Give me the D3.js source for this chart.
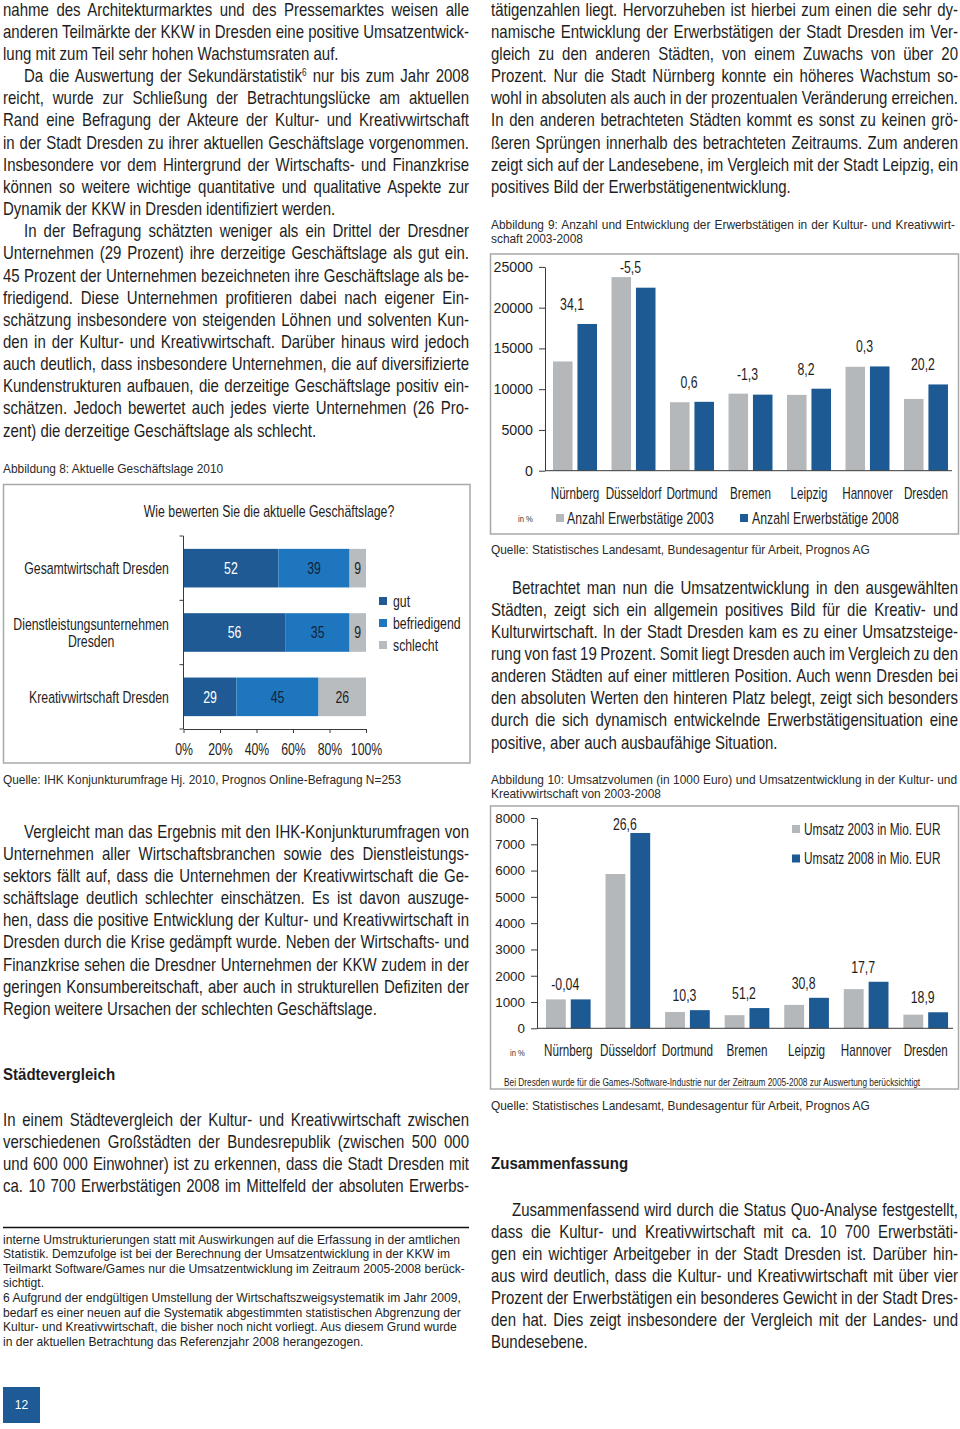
<!DOCTYPE html>
<html><head><meta charset="utf-8">
<script src="https://cdn.jsdelivr.net/npm/d3@7"></script>
<style>
html,body{margin:0;padding:0;background:#fff;}
svg{display:block;}
text{font-family:"Liberation Sans",Arial,sans-serif;fill:#1e1e1e;}
</style></head><body>
<script>
// ================= DATA =================
// Figure 8 – current business situation (percent)
const fig8Categories = ["Gesamtwirtschaft Dresden", "Dienstleistungsunternehmen\nDresden", "Kreativwirtschaft Dresden"];
const fig8Series = ["gut", "befriedigend", "schlecht"];
const fig8Gut = [52, 56, 29];
const fig8Befriedigend = [39, 35, 45];
const fig8Schlecht = [9, 9, 26];
const fig8Ticks = [0, 20, 40, 60, 80, 100];
const fig8Title = "Wie bewerten Sie die aktuelle Geschäftslage?";

// Figure 9 – employed persons
const cities = ["Nürnberg", "Düsseldorf", "Dortmund", "Bremen", "Leipzig", "Hannover", "Dresden"];
const fig9Series = ["Anzahl Erwerbstätige 2003", "Anzahl Erwerbstätige 2008"];
const erwerb2003 = [13400, 23750, 8400, 9450, 9300, 12750, 8800];
const erwerb2008 = [18000, 22450, 8450, 9330, 10060, 12790, 10580];
const erwerbChange = ["34,1", "-5,5", "0,6", "-1,3", "8,2", "0,3", "20,2"];
const fig9Ticks = [0, 5000, 10000, 15000, 20000, 25000];

// Figure 10 – turnover (Mio. EUR)
const fig10Series = ["Umsatz 2003 in Mio. EUR", "Umsatz 2008 in Mio. EUR"];
const umsatz2003 = [1100, 5870, 620, 500, 890, 1490, 520];
const umsatz2008 = [1100, 7430, 690, 770, 1160, 1770, 610];
const umsatzChange = ["-0,04", "26,6", "10,3", "51,2", "30,8", "17,7", "18,9"];
const fig10Ticks = [0, 1000, 2000, 3000, 4000, 5000, 6000, 7000, 8000];
const fig10Note = "Bei Dresden wurde für die Games-/Software-Industrie nur der Zeitraum 2005-2008 zur Auswertung berücksichtigt";

// Captions & sources
const captions = {
  fig8: ["Abbildung 8: Aktuelle Geschäftslage 2010"],
  fig8src: "Quelle: IHK Konjunkturumfrage Hj. 2010, Prognos Online-Befragung N=253",
  fig9: ["Abbildung 9: Anzahl und Entwicklung der Erwerbstätigen in der Kultur- und Kreativwirt-", "schaft 2003-2008"],
  fig9src: "Quelle: Statistisches Landesamt, Bundesagentur für Arbeit, Prognos AG",
  fig10: ["Abbildung 10: Umsatzvolumen (in 1000 Euro) und Umsatzentwicklung in der Kultur- und", "Kreativwirtschaft von 2003-2008"],
  fig10src: "Quelle: Statistisches Landesamt, Bundesagentur für Arbeit, Prognos AG"
};

// Body text
const leftTop = [
  {indent:false, end:true, lines:[
    "nahme des Architekturmarktes und des Pressemarktes weisen alle",
    "anderen Teilmärkte der KKW in Dresden eine positive Umsatzentwick-",
    "lung mit zum Teil sehr hohen Wachstumsraten auf."]},
  {indent:true, end:true, lines:[
    "Da die Auswertung der Sekundärstatistik^6 nur bis zum Jahr 2008",
    "reicht, wurde zur Schließung der Betrachtungslücke am aktuellen",
    "Rand eine Befragung der Akteure der Kultur- und Kreativwirtschaft",
    "in der Stadt Dresden zu ihrer aktuellen Geschäftslage vorgenommen.",
    "Insbesondere vor dem Hintergrund der Wirtschafts- und Finanzkrise",
    "können so weitere wichtige quantitative und qualitative Aspekte zur",
    "Dynamik der KKW in Dresden identifiziert werden."]},
  {indent:true, end:true, lines:[
    "In der Befragung schätzten weniger als ein Drittel der Dresdner",
    "Unternehmen (29 Prozent) ihre derzeitige Geschäftslage als gut ein.",
    "45 Prozent der Unternehmen bezeichneten ihre Geschäftslage als be-",
    "friedigend. Diese Unternehmen profitieren dabei nach eigener Ein-",
    "schätzung insbesondere von steigenden Löhnen und solventen Kun-",
    "den in der Kultur- und Kreativwirtschaft. Darüber hinaus wird jedoch",
    "auch deutlich, dass insbesondere Unternehmen, die auf diversifizierte",
    "Kundenstrukturen aufbauen, die derzeitige Geschäftslage positiv ein-",
    "schätzen. Jedoch bewertet auch jedes vierte Unternehmen (26 Pro-",
    "zent) die derzeitige Geschäftslage als schlecht."]}
];
const leftMid = [
  {indent:true, end:true, lines:[
    "Vergleicht man das Ergebnis mit den IHK-Konjunkturumfragen von",
    "Unternehmen aller Wirtschaftsbranchen sowie des Dienstleistungs-",
    "sektors fällt auf, dass die Unternehmen der Kreativwirtschaft die Ge-",
    "schäftslage deutlich schlechter einschätzen. Es ist davon auszuge-",
    "hen, dass die positive Entwicklung der Kultur- und Kreativwirtschaft in",
    "Dresden durch die Krise gedämpft wurde. Neben der Wirtschafts- und",
    "Finanzkrise sehen die Dresdner Unternehmen der KKW zudem in der",
    "geringen Konsumbereitschaft, aber auch in strukturellen Defiziten der",
    "Region weitere Ursachen der schlechten Geschäftslage."]}
];
const headingLeft = "Städtevergleich";
const leftBottom = [
  {indent:false, end:false, lines:[
    "In einem Städtevergleich der Kultur- und Kreativwirtschaft zwischen",
    "verschiedenen Großstädten der Bundesrepublik (zwischen 500 000",
    "und 600 000 Einwohner) ist zu erkennen, dass die Stadt Dresden mit",
    "ca. 10 700 Erwerbstätigen 2008 im Mittelfeld der absoluten Erwerbs-"]}
];
const footnotes = [
  "interne Umstrukturierungen statt mit Auswirkungen auf die Erfassung in der amtlichen",
  "Statistik. Demzufolge ist bei der Berechnung der Umsatzentwicklung in der KKW im",
  "Teilmarkt Software/Games nur die Umsatzentwicklung im Zeitraum 2005-2008 berück-",
  "sichtigt.",
  "6 Aufgrund der endgültigen Umstellung der Wirtschaftszweigsystematik im Jahr 2009,",
  "bedarf es einer neuen auf die Systematik abgestimmten statistischen Abgrenzung der",
  "Kultur- und Kreativwirtschaft, die bisher noch nicht vorliegt. Aus diesem Grund wurde",
  "in der aktuellen Betrachtung das Referenzjahr 2008 herangezogen."
];
const rightTop = [
  {indent:false, end:true, lines:[
    "tätigenzahlen liegt. Hervorzuheben ist hierbei zum einen die sehr dy-",
    "namische Entwicklung der Erwerbstätigen der Stadt Dresden im Ver-",
    "gleich zu den anderen Städten, von einem Zuwachs von über 20",
    "Prozent. Nur die Stadt Nürnberg konnte ein höheres Wachstum so-",
    "wohl in absoluten als auch in der prozentualen Veränderung erreichen.",
    "In den anderen betrachteten Städten kommt es sonst zu keinen grö-",
    "ßeren Sprüngen innerhalb des betrachteten Zeitraums. Zum anderen",
    "zeigt sich auf der Landesebene, im Vergleich mit der Stadt Leipzig, ein",
    "positives Bild der Erwerbstätigenentwicklung."]}
];
const rightMid = [
  {indent:true, end:true, lines:[
    "Betrachtet man nun die Umsatzentwicklung in den ausgewählten",
    "Städten, zeigt sich ein allgemein positives Bild für die Kreativ- und",
    "Kulturwirtschaft. In der Stadt Dresden kam es zu einer Umsatzsteige-",
    "rung von fast 19 Prozent. Somit liegt Dresden auch im Vergleich zu den",
    "anderen Städten auf einer mittleren Position. Auch wenn Dresden bei",
    "den absoluten Werten den hinteren Platz belegt, zeigt sich besonders",
    "durch die sich dynamisch entwickelnde Erwerbstätigensituation eine",
    "positive, aber auch ausbaufähige Situation."]}
];
const headingRight = "Zusammenfassung";
const rightBottom = [
  {indent:true, end:true, lines:[
    "Zusammenfassend wird durch die Status Quo-Analyse festgestellt,",
    "dass die Kultur- und Kreativwirtschaft mit ca. 10 700 Erwerbstäti-",
    "gen ein wichtiger Arbeitgeber in der Stadt Dresden ist. Darüber hin-",
    "aus wird deutlich, dass die Kultur- und Kreativwirtschaft mit über vier",
    "Prozent der Erwerbstätigen ein besonderes Gewicht in der Stadt Dres-",
    "den hat. Dies zeigt insbesondere der Vergleich mit der Landes- und",
    "Bundesebene."]}
];
const pageNumber = "12";

// ================= DRAWING =================
const svg = d3.select("body").append("svg").attr("width", 960).attr("height", 1429);
svg.append("rect").attr("width", 960).attr("height", 1429).attr("fill", "#fff");

// condensed text: regular font squeezed horizontally
const BODY_FS = 18.4, BODY_SX = 0.815, LH = 22.15;
const CH_FS = 16.5, CH_SX = 0.745;   // chart labels

function tf(x, y, sx) { return `translate(${x},${y}) scale(${sx},1)`; }
function nt(parent, x, y, str, fs, sx, anchor) {
  return parent.append("text").attr("transform", tf(x, y, sx))
    .attr("text-anchor", anchor || "start").style("font-size", fs + "px").text(str);
}

function justify(sel, width) {
  const node = sel.node();
  const w = node.getComputedTextLength();
  const spaces = (node.textContent.match(/ /g) || []).length;
  if (spaces > 0) sel.style("word-spacing", ((width - w) / spaces) + "px");
}

function addLine(g, str, x, y) {
  const t = g.append("text").attr("transform", tf(x, y, BODY_SX)).style("font-size", BODY_FS + "px");
  const parts = str.split(/\^(\d)/);
  parts.forEach((p, i) => {
    if (i % 2 === 0) {
      if (p.length) t.append("tspan").text(p).attr("dy", i > 0 ? 6 : null);
    } else {
      t.append("tspan").text(p).style("font-size", "10px").attr("dy", -6);
    }
  });
  return t;
}

function textBlock(paras, x, y0, width) {
  const g = svg.append("g");
  let y = y0;
  paras.forEach(p => {
    p.lines.forEach((ln, i) => {
      const ind = (p.indent && i === 0) ? 21 : 0;
      const t = addLine(g, ln, x + ind, y);
      const last = i === p.lines.length - 1;
      if (!last || !p.end) justify(t, (width - ind) / BODY_SX);
      y += LH;
    });
  });
}

textBlock(leftTop, 3, 15.7, 466);
textBlock(leftMid, 3, 837.7, 466);
textBlock(leftBottom, 3, 1125.5, 466);
textBlock(rightTop, 491, 15.7, 467);
textBlock(rightMid, 491, 593.5, 467);
textBlock(rightBottom, 491, 1215.5, 467);

nt(svg, 3, 1080, headingLeft, 16.2, 0.93).style("font-weight", "bold");
nt(svg, 491, 1169, headingRight, 16.2, 0.93).style("font-weight", "bold");

// captions
function caption(lines, x, y0, width, justifyFirst) {
  lines.forEach((ln, i) => {
    const t = svg.append("text").attr("x", x).attr("y", y0 + i * 14.5)
      .style("font-size", "11.9px").style("fill", "#2a2a2a").text(ln);
    if (justifyFirst && i < lines.length - 1) justify(t, width);
  });
}
caption(captions.fig8, 3, 472.5, 466, false);
caption([captions.fig8src], 3, 783.5, 466, false);
caption(captions.fig9, 491, 228.5, 464, true);
caption([captions.fig9src], 491, 553.5, 466, false);
caption(captions.fig10, 491, 783.5, 466, true);
caption([captions.fig10src], 491, 1109.5, 466, false);

// footnotes
svg.append("line").attr("x1", 3).attr("x2", 469).attr("y1", 1227.5).attr("y2", 1227.5).attr("stroke", "#111").attr("stroke-width", 1.6);
footnotes.forEach((ln, i) => {
  svg.append("text").attr("x", 3).attr("y", 1243.5 + i * 14.6).style("font-size", "12.1px").text(ln);
});

// page number
svg.append("rect").attr("x", 3).attr("y", 1387).attr("width", 37).attr("height", 36).attr("fill", "#1d5a96");
svg.append("text").attr("x", 21.5).attr("y", 1409).attr("text-anchor", "middle")
  .style("font-size", "12px").style("fill", "#fff").text(pageNumber);

const AXIS = "#3a3a3a";
const GREY = "#b5b8bb", BLUE = "#1d5a94";

// ---------- Figure 8 ----------
(function () {
  const g = svg.append("g");
  g.append("rect").attr("x", 3.5).attr("y", 484.5).attr("width", 466.5).attr("height", 278.5)
    .attr("fill", "none").attr("stroke", "#a8a8a8").attr("stroke-width", 1.5);
  nt(g, 269, 517, fig8Title, CH_FS, CH_SX, "middle");

  const colors = {gut: "#1f5a94", befriedigend: "#1e76be", schlecht: "#b9bcbf"};
  const labelColor = {gut: "#fff", befriedigend: "#14233a", schlecht: "#1e1e1e"};
  const y = d3.scaleBand().domain(fig8Categories).range([536, 729]).paddingInner(0.4).paddingOuter(0.2);
  const x = d3.scaleLinear().domain([0, 100]).range([183.5, 366]);
  const table = fig8Categories.map((c, i) => ({cat: c, gut: fig8Gut[i], befriedigend: fig8Befriedigend[i], schlecht: fig8Schlecht[i]}));
  const stacked = d3.stack().keys(fig8Series)(table);

  const layers = g.selectAll(".layer").data(stacked).join("g").attr("fill", d => colors[d.key]);
  layers.selectAll("rect").data(d => d).join("rect")
    .attr("x", d => x(d[0])).attr("width", d => x(d[1]) - x(d[0]))
    .attr("y", d => y(d.data.cat)).attr("height", y.bandwidth());
  stacked.forEach(layer => {
    g.selectAll(null).data(layer).join("text")
      .attr("transform", d => tf((x(d[0]) + x(d[1])) / 2, y(d.data.cat) + y.bandwidth() / 2 + 5.8, CH_SX))
      .attr("text-anchor", "middle").style("font-size", CH_FS + "px").style("fill", labelColor[layer.key])
      .text(d => d.data[layer.key]);
  });

  // y axis (ticks on category boundaries)
  const r = y.range();
  g.append("line").attr("x1", x(0)).attr("x2", x(0)).attr("y1", r[0]).attr("y2", r[1]).attr("stroke", AXIS);
  d3.range(fig8Categories.length + 1).forEach(i => {
    const yy = r[0] + i * y.step();
    g.append("line").attr("x1", x(0) - 4).attr("x2", x(0)).attr("y1", yy).attr("y2", yy).attr("stroke", AXIS);
  });
  // category labels (right aligned block, lines centred)
  fig8Categories.forEach(c => {
    const lines = c.split("\n");
    const cy = y(c) + y.bandwidth() / 2 + 5.8;
    const tmp = lines.map((ln, i) => g.append("text").style("font-size", CH_FS + "px").attr("text-anchor", "middle").text(ln)
      .attr("data-y", cy + (i - (lines.length - 1) / 2) * 17));
    const maxW = d3.max(tmp, t => t.node().getComputedTextLength()) * CH_SX;
    tmp.forEach(t => t.attr("transform", tf(169 - maxW / 2, +t.attr("data-y"), CH_SX)));
  });
  // x axis
  const xa = g.append("g").attr("transform", `translate(0,${r[1]})`)
    .call(d3.axisBottom(x).tickValues(fig8Ticks).tickFormat(d => d + "%").tickSize(4).tickPadding(10).tickSizeOuter(0));
  xa.select(".domain").attr("stroke", AXIS);
  xa.selectAll(".tick line").attr("stroke", AXIS);
  xa.selectAll("text").style("font-size", CH_FS + "px").style("font-family", '"Liberation Sans",Arial,sans-serif')
    .attr("fill", "#1e1e1e").attr("transform", `scale(${CH_SX},1)`);

  // legend
  fig8Series.forEach((s, i) => {
    const cy = 601 + i * 22;
    g.append("rect").attr("x", 379).attr("y", cy - 4).attr("width", 8).attr("height", 8).attr("fill", colors[s]);
    nt(g, 393, cy + 5.5, s, CH_FS, CH_SX);
  });
})();

// ---------- grouped bar helper ----------
function groupedBars(cfg) {
  const g = svg.append("g");
  g.append("rect").attr("x", 490.5).attr("y", cfg.frame[0]).attr("width", 468).attr("height", cfg.frame[1] - cfg.frame[0])
    .attr("fill", "none").attr("stroke", "#a8a8a8").attr("stroke-width", 1.5);
  const x = d3.scaleBand().domain(cities).range(cfg.xRange).paddingInner(cfg.pi).paddingOuter(cfg.po);
  const xs = d3.scaleBand().domain([0, 1]).range([0, x.bandwidth()]).paddingInner(0.2);
  const y = d3.scaleLinear().domain(cfg.yDomain).range(cfg.yRange);
  const table = cities.map((c, i) => ({city: c, v: [cfg.a[i], cfg.b[i]], change: cfg.change[i]}));
  const cols = [GREY, BLUE];

  const grp = g.selectAll(".grp").data(table).join("g").attr("transform", d => `translate(${x(d.city)},0)`);
  grp.selectAll("rect").data(d => d.v).join("rect")
    .attr("x", (d, i) => xs(i)).attr("width", xs.bandwidth())
    .attr("y", d => y(d)).attr("height", d => y(0) - y(d)).attr("fill", (d, i) => cols[i]);

  // change labels
  g.selectAll(".chg").data(table).join("text")
    .attr("transform", d => tf(x(d.city) + x.bandwidth() / 2 - 3, Math.max(y(d3.max(d.v)) - cfg.labelGap, cfg.labelMin), CH_SX))
    .attr("text-anchor", "middle").style("font-size", CH_FS + "px").text(d => d.change);

  // axes
  const ya = g.append("g").attr("transform", `translate(${cfg.xRange[0]},0)`)
    .call(d3.axisLeft(y).tickValues(cfg.ticks).tickSize(6).tickPadding(6).tickSizeOuter(0).tickFormat(d3.format("d")));
  ya.select(".domain").attr("stroke", AXIS);
  ya.selectAll(".tick line").attr("stroke", AXIS);
  ya.selectAll("text").style("font-size", cfg.tickFs + "px").style("font-family", '"Liberation Sans",Arial,sans-serif').attr("fill", "#1e1e1e");
  g.append("line").attr("x1", cfg.xRange[0]).attr("x2", cfg.xRange[1] - 4).attr("y1", y(0)).attr("y2", y(0)).attr("stroke", AXIS);

  // category labels
  g.selectAll(".cat").data(cities).join("text")
    .attr("transform", d => tf(x(d) + x.bandwidth() / 2, cfg.catY, 0.72))
    .attr("text-anchor", "middle").style("font-size", "16.2px").text(d => d);
  nt(g, cfg.inPct[0], cfg.inPct[1], "in %", 9, 0.85).style("fill", "#333");
  return g;
}

// ---------- Figure 9 ----------
const g9 = groupedBars({
  frame: [254, 534], xRange: [545, 956], pi: 0.248, po: 0.137,
  yDomain: [0, 25000], yRange: [470.7, 266.9], a: erwerb2003, b: erwerb2008, change: erwerbChange,
  ticks: fig9Ticks, tickFs: 14.2, labelGap: 14, labelMin: 273, catY: 499, inPct: [518, 521.5]
});
[[556, 567], [740, 752]].forEach((p, i) => {
  g9.append("rect").attr("x", p[0]).attr("y", 514).attr("width", 8).attr("height", 8).attr("fill", i ? BLUE : GREY);
  nt(g9, p[1], 524, fig9Series[i], CH_FS, CH_SX);
});

// ---------- Figure 10 ----------
const g10 = groupedBars({
  frame: [806, 1089], xRange: [537, 957], pi: 0.25, po: 0.15,
  yDomain: [0, 8000], yRange: [1028.3, 818], a: umsatz2003, b: umsatz2008, change: umsatzChange,
  ticks: fig10Ticks, tickFs: 13.4, labelGap: 9, labelMin: 830, catY: 1056, inPct: [510, 1055.5]
});
fig10Series.forEach((s, i) => {
  const cy = 829 + i * 29.5;
  g10.append("rect").attr("x", 792).attr("y", cy - 4).attr("width", 8).attr("height", 8).attr("fill", i ? BLUE : GREY);
  nt(g10, 804, cy + 5.7, s, CH_FS, 0.72);
});
nt(g10, 504, 1085.5, fig10Note, 10, 0.832);
</script>
</body></html>
